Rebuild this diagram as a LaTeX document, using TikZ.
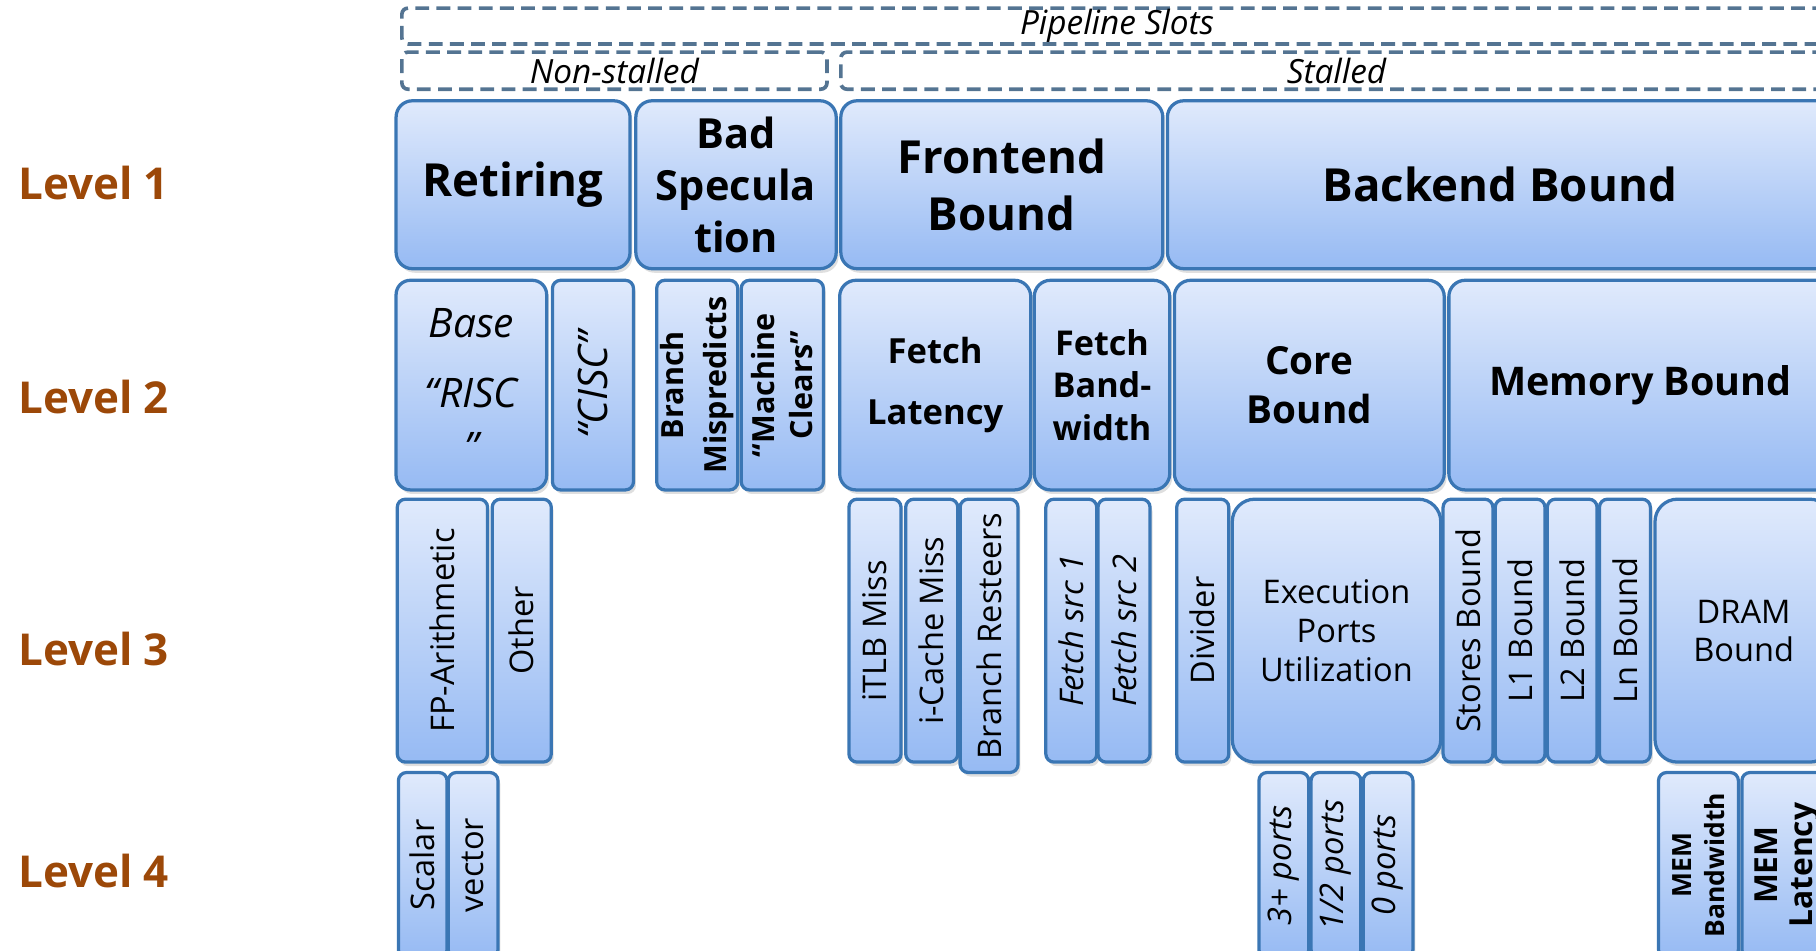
\documentclass[tikz,border=0pt]{standalone}
\usepackage{fontspec}
\setmainfont{Open Sans}
\usetikzlibrary{shadows}

\definecolor{tmatop}{RGB}{224,234,252}
\definecolor{tmabot}{RGB}{150,186,243}
\definecolor{tmaedge}{RGB}{58,118,180}
\definecolor{dashgray}{RGB}{84,116,146}
\definecolor{lvlbrown}{RGB}{156,72,8}

\begin{document}
\begin{tikzpicture}[x=0.1mm, y=-0.1mm,
  tmacell/.style n args={4}{at={({(#1+#3)/2},{(#2+#4)/2})},
    minimum width={(#3-#1)*0.1mm}, minimum height={(#4-#2)*0.1mm}},
  tma/.style={draw=tmaedge, line width=0.8pt, rounded corners=#1,
    top color=tmatop, bottom color=tmabot, inner sep=0pt, align=center,
    drop shadow={shadow xshift=0.6pt, shadow yshift=-1pt, opacity=0.25}},
  tma/.default=2pt,
  slots/.style={draw=dashgray, dash pattern=on 3.4pt off 1.8pt, line width=0.9pt,
    rounded corners=1.5pt, inner sep=0pt, font=\fontsize{8.2}{10}\selectfont\itshape},
  vtext/.style={rotate=90, align=center, font=\fontsize{8}{9.5}\selectfont},
  level/.style={anchor=west, inner sep=0pt, text=lvlbrown, font=\fontsize{10.8}{13}\selectfont\bfseries}]
  % Constants
  \pgfmathsetmacro\xr{1582}
  \pgfmathsetmacro\yb{827}
  % Boundary
  \useasboundingbox (0,0) rectangle (1568,821);
  \clip (0,0) rectangle (1568,821);
  % Levels
  \foreach \n/\y in {1/158,2/343,3/560,4/752}
    \node[level] (lvl\n) at (15,\y) {Level \n};
  % Pipeline slots
  \node[slots, tmacell={347}{7}{\xr}{38}] (slots) {Pipeline Slots};
  \node[slots, tmacell={347}{45}{714}{77}] (nonstall) {Non-stalled};
  \node[slots, tmacell={726}{45}{\xr}{77}] (stall) {Stalled};
  % Level 1
  \begin{scope}[every node/.style={font=\fontsize{11.2}{14}\selectfont\bfseries}]
    \node[tma=4pt, tmacell={342}{87}{544}{232}] (retiring) {Retiring};
    \node[tma=4pt, tmacell={549}{87}{722}{232}, font=\fontsize{10.2}{12.8}\selectfont\bfseries] (badspec) {Bad\\Specula\\tion};
    \node[tma=4pt, tmacell={726}{87}{1004}{232}] (frontend) {Frontend\\Bound};
    \node[tma=4pt, tmacell={1008}{87}{\xr}{232}] (backend) {Backend Bound};
  \end{scope}
  % Level 2
  \node[tma=3.5pt, tmacell={342}{242}{472}{423}, font=\fontsize{10}{15}\selectfont\itshape] (base) {Base\\[2pt]“RISC\\[-1.7pt]”};
  \node[tma, tmacell={477}{242}{547}{423}] (cisc) {};
  \node[vtext, font=\fontsize{10}{12}\selectfont\itshape] (cisc-t) at (cisc) {“CISC”};
  \node[tma, tmacell={567}{242}{637}{423}] (brmisp) {};
  \node[vtext, font=\fontsize{7.5}{10.6}\selectfont\bfseries] (brmisp-t) at (brmisp) {Branch\\Mispredicts};
  \node[tma, tmacell={640}{242}{711}{423}] (mclear) {};
  \node[vtext, font=\fontsize{7.5}{9.4}\selectfont\bfseries] (mclear-t) at (mclear) {“Machine\\Clears”};
  \node[tma=4pt, tmacell={725}{242}{890}{423}, font=\fontsize{8.5}{14.8}\selectfont\bfseries] (fetchlat) {Fetch\\Latency};
  \node[tma=4pt, tmacell={893}{242}{1010}{423}, font=\fontsize{8.4}{10.4}\selectfont\bfseries] (fetchbw) {Fetch\\Band-\\width};
  \node[tma=4pt, tmacell={1014}{242}{1247}{423}, font=\fontsize{9.5}{12}\selectfont\bfseries] (core) {Core\\Bound};
  \node[tma=4pt, tmacell={1251}{242}{\xr}{423}, font=\fontsize{9.7}{12}\selectfont\bfseries] (membound) {Memory Bound};
  % Level 3
  \node[tma, tmacell={343}{431}{421}{658}] (fparith) {};
  \node[vtext] (fparith-t) at (fparith) {FP-Arithmetic};
  \node[tma, tmacell={425}{431}{476}{658}] (other) {};
  \node[vtext] (other-t) at (other) {Other};
  \node[tma, tmacell={733}{431}{778}{658}] (itlb) {};
  \node[vtext] (itlb-t) at (itlb) {iTLB Miss};
  \node[tma, tmacell={782}{431}{827}{658}] (icache) {};
  \node[vtext] (icache-t) at (icache) {i-Cache Miss};
  \node[tma, tmacell={829}{431}{879}{667}] (brrest) {};
  \node[vtext] (brrest-t) at (brrest) {Branch Resteers};
  \node[tma, tmacell={903}{431}{947}{658}] (fsrc1) {};
  \node[vtext, font=\fontsize{8}{9.5}\selectfont\itshape] (fsrc1-t) at (fsrc1) {Fetch src 1};
  \node[tma, tmacell={948}{431}{993}{658}] (fsrc2) {};
  \node[vtext, font=\fontsize{8}{9.5}\selectfont\itshape] (fsrc2-t) at (fsrc2) {Fetch src 2};
  \node[tma, tmacell={1016}{431}{1061}{658}] (divider) {};
  \node[vtext] (divider-t) at (divider) {Divider};
  \node[tma=5.5pt, tmacell={1064}{431}{1244}{658}, font=\fontsize{8}{9.5}\selectfont] (execports) {Execution\\Ports\\Utilization};
  \node[tma, tmacell={1246}{431}{1289}{658}] (stores) {};
  \node[vtext] (stores-t) at (stores) {Stores Bound};
  \node[tma, tmacell={1291}{431}{1334}{658}] (l1) {};
  \node[vtext] (l1-t) at (l1) {L1 Bound};
  \node[tma, tmacell={1336}{431}{1379}{658}] (l2) {};
  \node[vtext] (l2-t) at (l2) {L2 Bound};
  \node[tma, tmacell={1381}{431}{1425}{658}] (ln) {};
  \node[vtext] (ln-t) at (ln) {Ln Bound};
  \node[tma=5.5pt, tmacell={1429}{431}{\xr}{658}, font=\fontsize{8}{9.4}\selectfont] (dram) {DRAM\\Bound};
  % Level 4
  \node[tma, tmacell={344}{667}{386}{\yb}] (scalar) {};
  \node[vtext] (scalar-t) at (scalar) {Scalar};
  \node[tma, tmacell={387}{667}{430}{\yb}] (vector) {};
  \node[vtext] (vector-t) at (vector) {vector};
  \node[tma, tmacell={1087}{667}{1130}{\yb}] (p3) {};
  \node[vtext, font=\fontsize{8}{9.5}\selectfont\itshape] (p3-t) at (p3) {3+ ports};
  \node[tma, tmacell={1132}{667}{1175}{\yb}] (p12) {};
  \node[vtext, font=\fontsize{8}{9.5}\selectfont\itshape] (p12-t) at (p12) {1/2 ports};
  \node[tma, tmacell={1177}{667}{1220}{\yb}] (p0) {};
  \node[vtext, font=\fontsize{8}{9.5}\selectfont\itshape] (p0-t) at (p0) {0 ports};
  \node[tma, tmacell={1432}{667}{1501}{\yb}] (membw) {};
  \node[vtext, font=\fontsize{6.5}{8}\selectfont\bfseries] (membw-t) at (membw) {MEM\\Bandwidth};
  \node[tma, tmacell={1504}{667}{\xr}{\yb}] (memlat) {};
  \node[vtext, font=\fontsize{7.8}{8.6}\selectfont\bfseries] (memlat-t) at (memlat) {MEM\\Latency};
\end{tikzpicture}
\end{document}
